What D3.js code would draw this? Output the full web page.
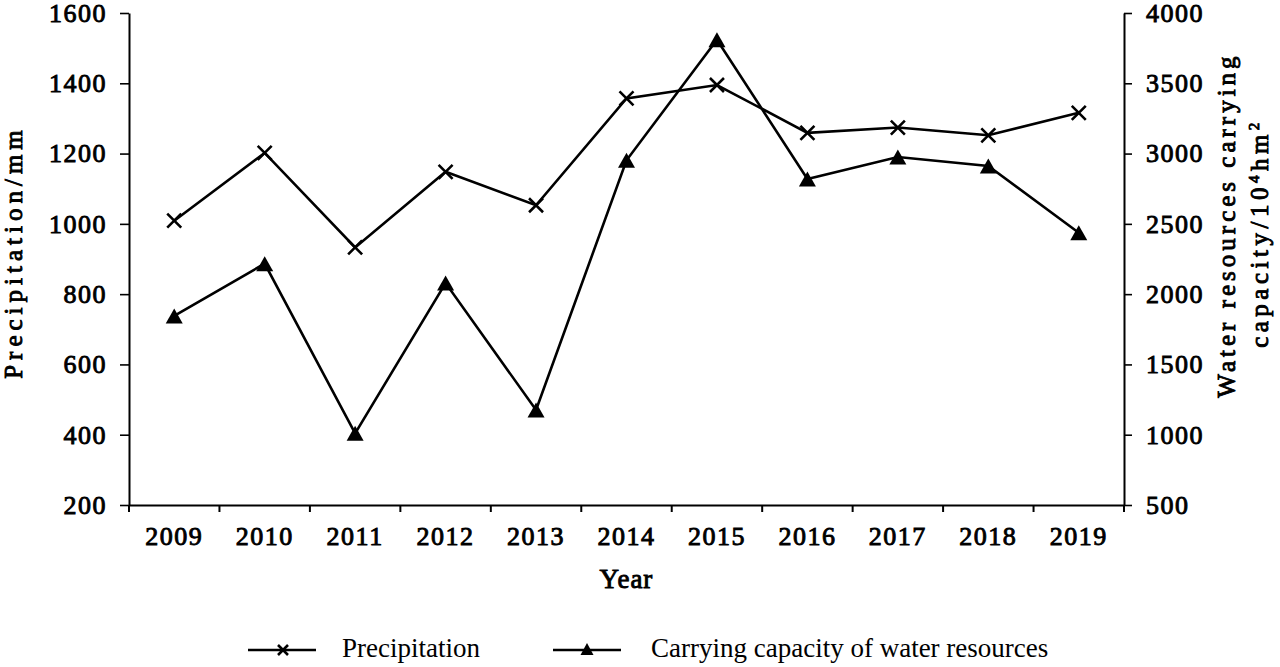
<!DOCTYPE html>
<html><head><meta charset="utf-8">
<script src="https://cdn.jsdelivr.net/npm/d3@7"></script>
<style>
body{margin:0;background:#fff;}
svg{display:block;font-family:"Liberation Serif","Times New Roman",serif;}
.b{font-weight:normal;stroke:#000;stroke-width:0.9px;paint-order:stroke;fill:#000;}
</style></head><body>
<svg id="chart" width="1280" height="667"></svg>
<script>
const years = ["2009","2010","2011","2012","2013","2014","2015","2016","2017","2018","2019"];
const precipitation = [1009, 1202, 933, 1148, 1053, 1357, 1395, 1259, 1274, 1252, 1316];
const capacity = [1845, 2217, 1010, 2079, 1176, 2952, 3810, 2819, 2976, 2912, 2437];
const leftTicks = [200, 400, 600, 800, 1000, 1200, 1400, 1600];
const rightTicks = [500, 1000, 1500, 2000, 2500, 3000, 3500, 4000];
const seriesNames = ["Precipitation", "Carrying capacity of water resources"];

const svg = d3.select("#chart");
const L = 129, R = 1124, T = 13, B = 505;
const FF = '"Liberation Serif","Times New Roman",serif';

const x = d3.scaleBand().domain(years).range([L, R]).padding(0);
const yL = d3.scaleLinear().domain([200, 1600]).range([B, T]);
const yR = d3.scaleLinear().domain([500, 4000]).range([B, T]);
const fmt = d3.format("d");

const gL = svg.append("g").attr("transform", `translate(${L},0)`)
  .call(d3.axisLeft(yL).tickValues(leftTicks).tickFormat(fmt).tickSize(9).tickPadding(13).tickSizeOuter(0));
const gR = svg.append("g").attr("transform", `translate(${R},0)`)
  .call(d3.axisRight(yR).tickValues(rightTicks).tickFormat(fmt).tickSize(8).tickPadding(14).tickSizeOuter(0));
const gB = svg.append("g").attr("transform", `translate(0,${B})`)
  .call(d3.axisBottom(x).tickSize(0).tickPadding(22).tickSizeOuter(0));
const bounds = years.map(y => x(y)).concat([x(years[years.length-1]) + x.bandwidth()]);
gB.selectAll(".bt").data(bounds).enter().append("line")
  .attr("x1", d => d).attr("x2", d => d).attr("y1", 0).attr("y2", 7)
  .attr("stroke", "#000").attr("stroke-width", 2);

[gL, gR, gB].forEach(g => {
  g.attr("font-family", null).attr("font-size", null);
  g.selectAll("path.domain").attr("stroke", "#000").attr("stroke-width", 2);
  g.selectAll(".tick line").attr("stroke", "#000").attr("stroke-width", 1.6);
  g.selectAll("text").attr("class", "b")
    .style("font-family", FF).style("font-size", "26px").style("letter-spacing", "1.5px");
});
gB.selectAll("text").attr("dy", "0.71em");

svg.append("text").attr("class", "b").attr("transform", "translate(22,252) rotate(-90)")
  .attr("text-anchor", "middle").style("font-size", "25px")
  .style("letter-spacing", "5px").text("Precipitation/mm");

svg.append("text").attr("class", "b").attr("transform", "translate(1235,225) rotate(-90)")
  .attr("text-anchor", "middle").style("font-size", "25px")
  .style("letter-spacing", "4px").text("Water resources carrying");
const t2 = svg.append("text").attr("class", "b").attr("transform", "translate(1268,233) rotate(-90)")
  .attr("text-anchor", "middle").style("font-size", "25px")
  .style("letter-spacing", "4.5px");
t2.append("tspan").text("capacity/10");
t2.append("tspan").attr("dy", -9).style("font-size", "15px").text("4");
t2.append("tspan").attr("dy", 9).text("hm");
t2.append("tspan").attr("dy", -9).style("font-size", "15px").text("2");

svg.append("text").attr("class", "b").attr("x", (L + R) / 2).attr("y", 588).attr("text-anchor", "middle")
  .style("font-size", "27px").style("letter-spacing", "1px").text("Year");

const cx = d => x(d) + x.bandwidth() / 2;
const lineP = d3.line().x((d, i) => cx(years[i])).y(d => yL(d));
const lineC = d3.line().x((d, i) => cx(years[i])).y(d => yR(d));

svg.append("path").datum(precipitation).attr("d", lineP)
  .attr("fill", "none").attr("stroke", "#000").attr("stroke-width", 2.6);
svg.append("path").datum(capacity).attr("d", lineC)
  .attr("fill", "none").attr("stroke", "#000").attr("stroke-width", 2.6);

function cross(g, px, py, s) {
  g.append("path").attr("d", `M${px-s},${py-s}L${px+s},${py+s}M${px-s},${py+s}L${px+s},${py-s}`)
    .attr("stroke", "#000").attr("stroke-width", 2.6).attr("fill", "none");
}
function tri(g, px, py, w, h) {
  g.append("path").attr("d", `M${px},${py-h/2}L${px+w/2},${py+h/2}L${px-w/2},${py+h/2}Z`)
    .attr("fill", "#000");
}
const gm = svg.append("g");
precipitation.forEach((v, i) => cross(gm, cx(years[i]), yL(v), 7));
capacity.forEach((v, i) => tri(gm, cx(years[i]), yR(v), 17, 15));

const lg = svg.append("g");
const ly = 650;
lg.append("line").attr("x1", 248).attr("x2", 316).attr("y1", ly).attr("y2", ly).attr("stroke", "#000").attr("stroke-width", 2.6);
cross(lg, 283, ly, 5);
lg.append("text").attr("x", 342).attr("y", 657).style("font-size", "27px").text(seriesNames[0]);
lg.append("line").attr("x1", 553).attr("x2", 621).attr("y1", ly).attr("y2", ly).attr("stroke", "#000").attr("stroke-width", 2.6);
tri(lg, 587, ly - 1, 13, 12);
lg.append("text").attr("x", 651).attr("y", 657).style("font-size", "27px").text(seriesNames[1]);
</script>
</body></html>
